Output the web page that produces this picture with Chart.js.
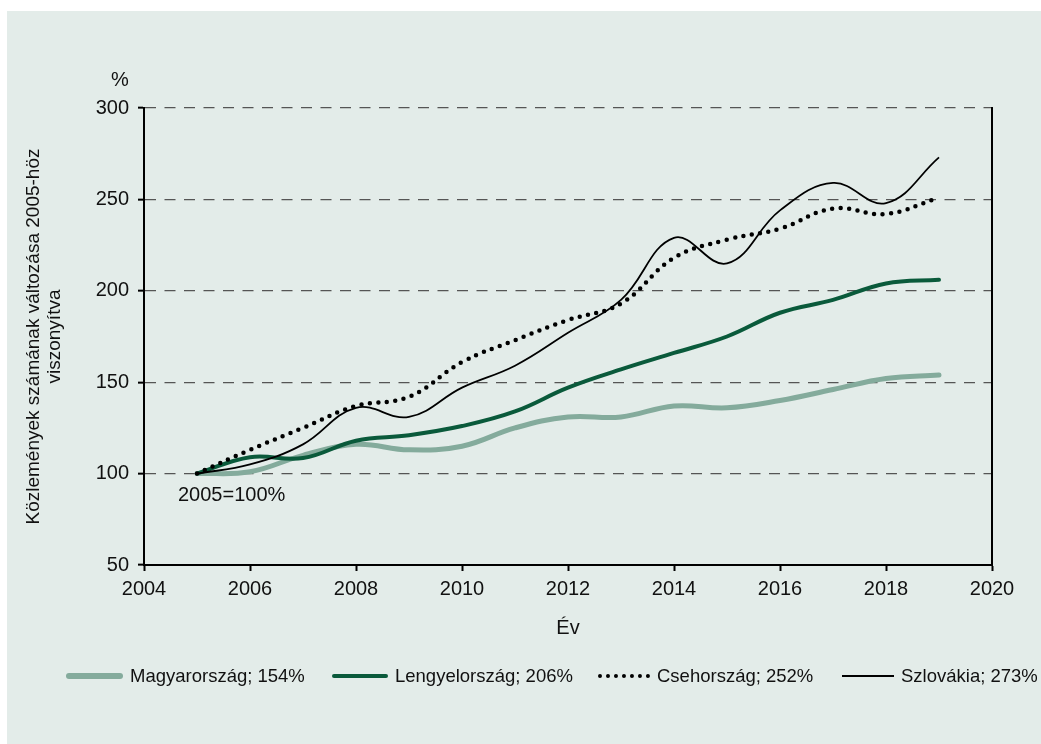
<!DOCTYPE html>
<html>
<head>
<meta charset="utf-8">
<script src="https://cdn.jsdelivr.net/npm/chart.js@4"></script>
<style>
body { margin: 0; background: #fff; font-family: "Liberation Sans", Arial, sans-serif; }
#panel { position: absolute; left: 7px; top: 11px; right: 0; bottom: 0; background: #e3ece9; }
#wrap { position: absolute; left: 0; top: 0; width: 1041px; height: 744px; }
#legend { position: absolute; left: 0; top: 664px; width: 1041px; height: 24px; font-size: 18.5px; color: #111; }
.item { position: absolute; top: 0; display: flex; align-items: center; height: 24px; white-space: nowrap; }
.swatch { margin-right: 7px; }
</style>
</head>
<body>
<div id="panel"></div>
<div id="wrap"><canvas id="chart" width="1041" height="744"></canvas></div>
<div id="legend"></div>
<script>
// =========================
// DATA
// =========================
const years = [2005, 2006, 2007, 2008, 2009, 2010, 2011, 2012, 2013, 2014, 2015, 2016, 2017, 2018, 2019];
const magyarorszag = [100, 101, 110, 116, 113, 115, 125, 131, 131, 137, 136, 140, 146, 152, 154];
const lengyelorszag = [100, 109, 108.5, 118, 121, 126, 134, 147, 157, 166, 175, 188, 195, 204, 206];
const csehorszag = [100, 113, 125, 137, 142, 161, 173, 184, 193, 218, 228, 234, 245, 242, 251];
const szlovakia = [100, 105, 116, 136, 131, 147, 159, 177, 195, 229, 215, 244, 259, 248, 273];
const seriesNames = ["Magyarország; 154%", "Lengyelország; 206%", "Csehország; 252%", "Szlovákia; 273%"];
const yTicks = [50, 100, 150, 200, 250, 300];
const xTicks = [2004, 2006, 2008, 2010, 2012, 2014, 2016, 2018, 2020];

const FONT = "'Liberation Sans', Arial, sans-serif";
const toPoints = arr => years.map((yr, i) => ({ x: yr, y: arr[i] }));

// extra labels: "%" above axis and base note
const notes = {
  id: "notes",
  afterDraw(chart) {
    const c = chart.ctx;
    const xs = chart.scales.x, ys = chart.scales.y;
    c.save();
    c.fillStyle = "#111";
    c.font = "20px " + FONT;
    c.textAlign = "center";
    c.textBaseline = "middle";
    c.fillText("%", ys.right - 24, ys.top - 28);
    c.textAlign = "left";
    c.fillText("2005=100%", xs.getPixelForValue(2005) - 19, ys.getPixelForValue(100) + 22);
    c.restore();
  }
};

const ctx = document.getElementById("chart");

new Chart(ctx, {
  type: "line",
  data: {
    datasets: [
      { label: seriesNames[0], data: toPoints(magyarorszag), borderColor: "#84ab9c", borderWidth: 5, borderCapStyle: "round", order: 3 },
      { label: seriesNames[1], data: toPoints(lengyelorszag), borderColor: "#0a5a3b", borderWidth: 4, borderCapStyle: "round", order: 2 },
      { label: seriesNames[2], data: toPoints(csehorszag), borderColor: "#000", borderWidth: 4.5, borderDash: [0, 8.5], borderCapStyle: "round", order: 1 },
      { label: seriesNames[3], data: toPoints(szlovakia), borderColor: "#000", borderWidth: 1.8, order: 0 }
    ]
  },
  options: {
    responsive: false,
    animation: false,
    events: [],
    elements: { point: { radius: 0 }, line: { tension: 0.4, fill: false } },
    layout: { padding: { left: 23, right: 49, top: 108, bottom: 104 } },
    plugins: { legend: { display: false }, tooltip: { enabled: false } },
    scales: {
      x: {
        type: "linear",
        min: 2004,
        max: 2020,
        afterBuildTicks: s => { s.ticks = xTicks.map(v => ({ value: v })); },
        afterFit: s => { s.height = 75; },
        ticks: { color: "#111", font: { family: FONT, size: 20 }, padding: 6, maxRotation: 0, callback: v => String(v) },
        grid: { drawOnChartArea: false, tickLength: 6, tickColor: "#000", tickWidth: 2 },
        border: { display: true, color: "#000", width: 2 },
        title: { display: true, text: "Év", color: "#111", font: { family: FONT, size: 20 }, padding: 0 }
      },
      y: {
        min: 50,
        max: 300,
        afterBuildTicks: s => { s.ticks = yTicks.map(v => ({ value: v })); },
        afterFit: s => { s.width = 121; },
        ticks: { color: "#111", font: { family: FONT, size: 20 }, padding: 9 },
        grid: {
          color: c => (c.tick && c.tick.value === 50 ? "rgba(0,0,0,0)" : "#555"),
          lineWidth: 1.3,
          tickLength: 6,
          tickColor: "#000",
          tickWidth: 2
        },
        border: { display: true, color: "#000", width: 2, dash: [11, 8.5] },
        title: {
          display: true,
          text: ["Közlemények számának változása 2005-höz", "viszonyítva"],
          color: "#111",
          font: { family: FONT, size: 19, lineHeight: 1.1 },
          padding: 0
        }
      },
      y2: {
        position: "right",
        min: 50,
        max: 300,
        afterFit: s => { s.width = 0; },
        ticks: { display: false },
        grid: { drawOnChartArea: false, drawTicks: false },
        border: { display: true, color: "#000", width: 2 }
      }
    }
  },
  plugins: [notes]
});

// =========================
// HTML LEGEND
// =========================
const legendSwatches = [
  { left: 66, css: "width:57px;height:6px;border-radius:3px;background:#84ab9c;" },
  { left: 332, css: "width:56px;height:4.5px;border-radius:2px;background:#0a5a3b;" },
  { left: 598, css: "width:52px;height:0;border-top:4px dotted #000;" },
  { left: 842, css: "width:52px;height:2px;background:#000;" }
];
const legendBox = document.getElementById("legend");
seriesNames.forEach((name, i) => {
  const item = document.createElement("div");
  item.className = "item";
  item.style.left = legendSwatches[i].left + "px";
  const sw = document.createElement("span");
  sw.className = "swatch";
  sw.style.cssText = legendSwatches[i].css;
  const txt = document.createElement("span");
  txt.textContent = name;
  item.appendChild(sw);
  item.appendChild(txt);
  legendBox.appendChild(item);
});
</script>
</body>
</html>
